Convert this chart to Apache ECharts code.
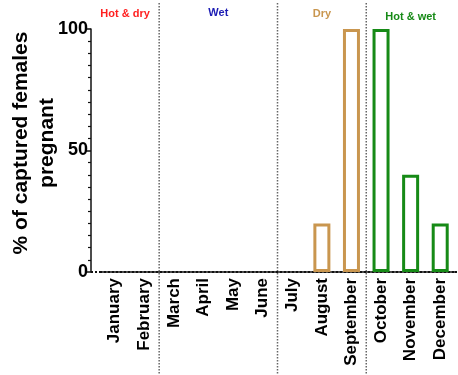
<!DOCTYPE html>
<html><head><meta charset="utf-8">
<script src="https://cdn.jsdelivr.net/npm/echarts@6/dist/echarts.min.js"></script>
<style>html,body{margin:0;padding:0;background:#fff}#c{width:458px;height:375px}</style>
</head><body><div id="c"></div>
<script>
const months = ['January','February','March','April','May','June','July','August','September','October','November','December'];
const pregnantPct = [0,0,0,0,0,0,0,20,100,100,40,20];
const monthSeason = [0,0,1,1,1,1,2,2,2,3,3,3];
const seasonNames = ['Hot & dry','Wet','Dry','Hot & wet'];
const seasonColors = ['#ff1f1f','#1c1cb4','#c9964f','#168a16'];
const seasonLabelY = [14,13,14,17];
const yTicks = [0,50,100];
const FONT = '"Liberation Sans", Arial, sans-serif';

const chart = echarts.init(document.getElementById('c'));
chart.setOption({
  animation:false,
  grid:{left:100,right:3,top:29,bottom:103},
  xAxis:{type:'category',data:months,boundaryGap:true,
    axisLine:{lineStyle:{color:'#111',width:2,type:[2,2]}},
    axisTick:{alignWithLabel:true,length:3,lineStyle:{color:'#111',width:1.5}},
    axisLabel:{rotate:90,margin:6,color:'#000',fontSize:17,fontWeight:'bold',fontFamily:FONT,interval:0},
    splitLine:{show:false}},
  yAxis:{type:'value',min:yTicks[0],max:yTicks[yTicks.length-1],interval:50,offset:9,
    axisLine:{show:true,lineStyle:{color:'#111',width:1.5}},
    axisTick:{show:true,length:6,lineStyle:{color:'#111',width:1.5}},
    minorTick:{show:true,splitNumber:10,length:3,lineStyle:{color:'#111',width:1.2}},
    axisLabel:{margin:3,color:'#000',fontSize:18,fontWeight:'bold',fontFamily:FONT},
    splitLine:{show:false}},
  series:[{type:'bar',barWidth:17,
    data:pregnantPct.map((v,i)=>({value:v,itemStyle:{color:'#fff',borderColor:seasonColors[monthSeason[i]],borderWidth:v>0?3:0}}))}]
});

function px(idx){return chart.convertToPixel({xAxisIndex:0},idx);}
const band = px(1)-px(0);
const y0 = chart.convertToPixel({yAxisIndex:0},0);
const axisX = px(0)-band/2-9;
const gfx = [];
gfx.push({type:'line',shape:{x1:axisX,y1:y0,x2:px(0)-band/2,y2:y0},style:{stroke:'#111',lineWidth:2,lineDash:[2,2]}});
gfx.push({type:'line',shape:{x1:px(11)+band/2,y1:y0,x2:458,y2:y0},style:{stroke:'#111',lineWidth:2,lineDash:[2,2]}});
for(let s=0;s<seasonNames.length;s++){
  const idxs = monthSeason.map((m,i)=>m===s?i:-1).filter(i=>i>=0);
  const start = s===0 ? axisX : px(idxs[0])-band/2;
  const end = px(idxs[idxs.length-1])+band/2;
  if(s>0){gfx.push({type:'line',shape:{x1:start,y1:3,x2:start,y2:375},style:{stroke:'#666',lineWidth:1.5,lineDash:[1.5,1.5]}});}
  gfx.push({type:'text',x:(start+end)/2,y:seasonLabelY[s],style:{text:seasonNames[s],fill:seasonColors[s],font:'bold 11px '+FONT,textAlign:'center',textVerticalAlign:'middle'}});
}
gfx.push({type:'text',x:34,y:143,rotation:Math.PI/2,style:{text:'% of captured females\npregnant',fill:'#000',font:'bold 21px '+FONT,textAlign:'center',textVerticalAlign:'middle',lineHeight:26}});
chart.setOption({graphic:gfx});
</script></body></html>
